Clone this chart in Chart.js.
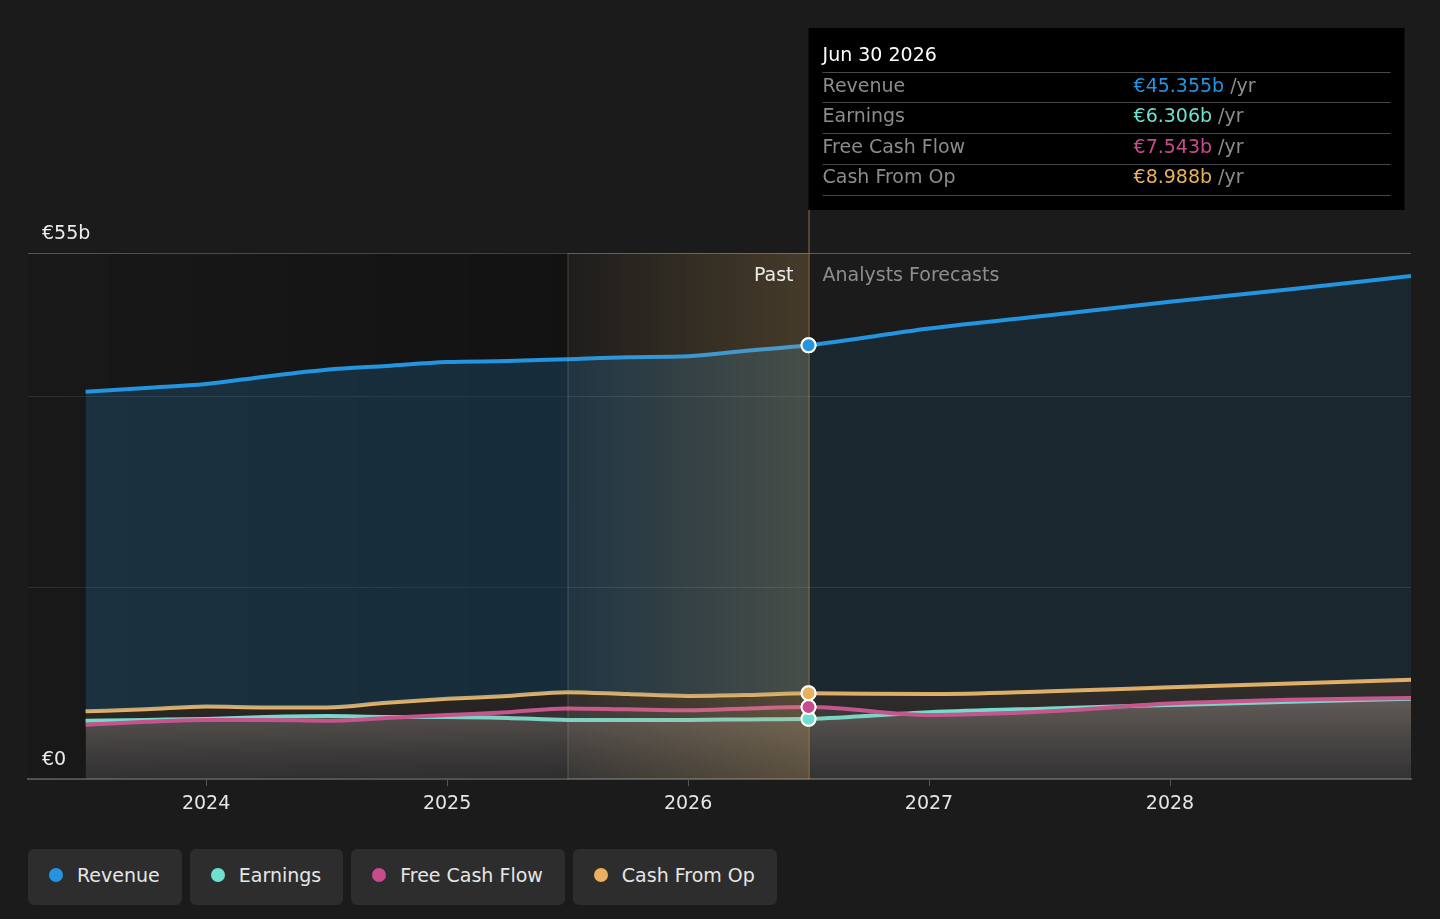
<!DOCTYPE html>
<html>
<head>
<meta charset="utf-8">
<script src="https://cdn.jsdelivr.net/npm/chart.js@4"></script>
<style>
  html, body { margin: 0; padding: 0; background: #1b1b1b; }
  body { width: 1440px; height: 919px; position: relative; overflow: hidden; font-family: 'DejaVu Sans', sans-serif; }
  #wrap { position: absolute; left: 0; top: 0; width: 1440px; height: 830px; }
  #legend { position: absolute; left: 28px; top: 849px; display: flex; gap: 8px; }
  .item { height: 56px; box-sizing: border-box; padding: 0 22px 5px 21px; background: #2d2d2d; border-radius: 6px;
          display: flex; align-items: center; color: #e6e6e6; font-size: 19px; }
  .dot { width: 14px; height: 14px; border-radius: 50%; margin-right: 14px; }
</style>
</head>
<body>
<div id="wrap"><canvas id="chart"></canvas></div>
<div id="legend"></div>
<script>
// data (values in € billions)
const years = [2023.5, 2023.75, 2024, 2024.25, 2024.5, 2024.75, 2025, 2025.25, 2025.5, 2025.75, 2026, 2026.25, 2026.5,
               2027, 2027.5, 2028, 2028.5, 2029];
const revenue  = [40.5, 40.9, 41.3, 42.1, 42.8, 43.2, 43.6, 43.7, 43.9, 44.1, 44.2, 44.8, 45.355, 47.1, 48.5, 49.9, 51.2, 52.6];
const earnings = [6.1, 6.2, 6.3, 6.5, 6.6, 6.5, 6.5, 6.4, 6.2, 6.2, 6.2, 6.25, 6.306, 7.0, 7.4, 7.75, 8.1, 8.4];
const fcf      = [5.7, 6.0, 6.2, 6.2, 6.1, 6.4, 6.7, 7.0, 7.4, 7.3, 7.2, 7.4, 7.543, 6.7, 7.1, 7.9, 8.3, 8.5];
const cfo      = [7.1, 7.3, 7.6, 7.5, 7.5, 8.0, 8.4, 8.7, 9.1, 8.9, 8.7, 8.8, 8.988, 8.9, 9.2, 9.6, 10.0, 10.4];
const yearTicks = [2024, 2025, 2026, 2027, 2028];
const yTicks = [0, 20, 40, 55];
const names = ['Revenue', 'Earnings', 'Free Cash Flow', 'Cash From Op'];
const colors = ['#2394df', '#6fe0cf', '#c84b8b', '#e8b060'];
const highlightStart = 2025.5;
const pastEnd = 2026.5;
const hoverLabel = 'Jun 30 2026';

const FONT = "'DejaVu Sans', sans-serif";
const xMin = 2023.261, xMax = 2029.0;

const pts = arr => arr.map((v, i) => ({x: years[i], y: v}));

function rgba(hex, a){
  const n = parseInt(hex.slice(1), 16);
  return `rgba(${n >> 16},${(n >> 8) & 255},${n & 255},${a})`;
}

// horizontal gradient: stronger in the past, weaker over forecasts
function revFill(ctx){
  const ch = ctx.chart;
  if (!ch.chartArea) return rgba(colors[0], 0.15);
  const x = ch.scales.x, a = ch.chartArea;
  const g = ch.ctx.createLinearGradient(a.left, 0, a.right, 0);
  const p = (x.getPixelForValue(pastEnd) - a.left) / (a.right - a.left);
  g.addColorStop(0, rgba(colors[0], 0.2));
  g.addColorStop(p, rgba(colors[0], 0.2));
  g.addColorStop(Math.min(p + 0.001, 1), rgba(colors[0], 0.1));
  g.addColorStop(1, rgba(colors[0], 0.1));
  return g;
}
function lowFill(alphaTop, alphaBot){
  return ctx => {
    const ch = ctx.chart;
    if (!ch.chartArea) return 'rgba(200,190,180,0.1)';
    const y = ch.scales.y;
    const g = ch.ctx.createLinearGradient(0, y.getPixelForValue(10), 0, y.getPixelForValue(0));
    g.addColorStop(0, `rgba(200,182,170,${alphaTop})`);
    g.addColorStop(1, `rgba(130,130,130,${alphaBot})`);
    return g;
  };
}

const markerRadius = ctx => (ctx.raw && ctx.raw.x === pastEnd ? 7 : 0);

const backdrop = {
  id: 'backdrop',
  beforeDatasetsDraw(chart){
    const {ctx, chartArea: a, scales: {x}} = chart;
    const hs = x.getPixelForValue(highlightStart);
    const g = ctx.createLinearGradient(a.left, 0, hs, 0);
    g.addColorStop(0, 'rgba(0,0,0,0.08)');
    g.addColorStop(1, 'rgba(0,0,0,0.3)');
    ctx.save();
    ctx.fillStyle = g;
    ctx.fillRect(a.left, a.top, hs - a.left, a.bottom - a.top);
    ctx.restore();
  },
  afterDatasetsDraw(chart){
    const {ctx, chartArea: a, scales: {x}} = chart;
    const hs = x.getPixelForValue(highlightStart);
    const pe = x.getPixelForValue(pastEnd);
    ctx.save();
    const g = ctx.createLinearGradient(hs, 0, pe, 0);
    g.addColorStop(0, 'rgba(225,175,95,0.02)');
    g.addColorStop(1, 'rgba(225,175,95,0.22)');
    ctx.fillStyle = g;
    ctx.fillRect(hs, a.top, pe - hs, a.bottom - a.top);
    ctx.strokeStyle = 'rgba(200,180,140,0.25)';
    ctx.lineWidth = 1;
    ctx.beginPath(); ctx.moveTo(hs + 0.5, a.top); ctx.lineTo(hs + 0.5, a.bottom); ctx.stroke();
    ctx.restore();
  },
  afterDraw(chart){
    const {ctx, chartArea: a, scales: {x, y}} = chart;
    const pe = x.getPixelForValue(pastEnd);
    ctx.save();
    // y labels
    ctx.font = `19px ${FONT}`;
    ctx.fillStyle = '#ececec';
    ctx.textBaseline = 'middle';
    ctx.textAlign = 'left';
    ctx.fillText('€55b', 42, y.getPixelForValue(55) - 19);
    ctx.fillText('€0', 42, y.getPixelForValue(0) - 19);
    // past / forecast labels
    ctx.textAlign = 'right';
    ctx.fillText('Past', pe - 15, a.top + 23);
    ctx.textAlign = 'left';
    ctx.fillStyle = '#8e8e8e';
    ctx.fillText('Analysts Forecasts', pe + 14, a.top + 23);

    // hover tooltip box
    const bx = pe, by = 28, bw = 596, bh = 182;
    ctx.fillStyle = '#000';
    ctx.fillRect(bx, by, bw, bh);
    ctx.strokeStyle = 'rgba(190,150,80,0.7)';
    ctx.lineWidth = 1;
    ctx.beginPath(); ctx.moveTo(pe + 0.5, by + bh); ctx.lineTo(pe + 0.5, a.bottom); ctx.stroke();
    ctx.fillStyle = '#ffffff';
    ctx.fillText(hoverLabel, bx + 14, 56);
    const lines = [72, 102, 133, 164, 195];
    ctx.strokeStyle = '#4a4a4a';
    lines.forEach(ly => { ctx.beginPath(); ctx.moveTo(bx + 14, ly + 0.5); ctx.lineTo(bx + bw - 14, ly + 0.5); ctx.stroke(); });
    const idx = years.indexOf(pastEnd);
    const vals = [revenue, earnings, fcf, cfo].map(s => s[idx]);
    const rows = [87, 117, 148, 178];
    names.forEach((n, i) => {
      ctx.fillStyle = '#8c8c8c';
      ctx.fillText(n, bx + 14, rows[i]);
      const v = '€' + vals[i].toFixed(3) + 'b';
      ctx.fillStyle = colors[i];
      ctx.fillText(v, bx + 325, rows[i]);
      const w = ctx.measureText(v + ' ').width;
      ctx.fillStyle = '#8c8c8c';
      ctx.fillText('/yr', bx + 325 + w, rows[i]);
    });
    ctx.restore();

    // markers on top of the highlight overlay
    chart.data.datasets.forEach((d, i) => {
      const el = chart.getDatasetMeta(i).data[years.indexOf(pastEnd)];
      if (el) el.draw(ctx, a);
    });
  }
};

const series = [revenue, earnings, fcf, cfo];
const fills = [
  {fill: 3, bg: revFill, order: 0},
  {fill: 'origin', bg: lowFill(0.3, 0.12), order: 3},
  {fill: 'origin', bg: lowFill(0.14, 0.07), order: 2},
  {fill: 'origin', bg: lowFill(0.13, 0.07), order: 1}
];

new Chart(document.getElementById('chart'), {
  type: 'line',
  data: {
    datasets: series.map((s, i) => ({
      label: names[i],
      data: pts(s),
      borderColor: colors[i],
      backgroundColor: fills[i].bg,
      fill: fills[i].fill,
      order: fills[i].order,
      borderWidth: 4,
      cubicInterpolationMode: 'monotone',
      pointRadius: markerRadius,
      pointBackgroundColor: colors[i],
      pointBorderColor: '#ffffff',
      pointBorderWidth: 2,
      pointHoverRadius: markerRadius
    }))
  },
  options: {
    responsive: true,
    maintainAspectRatio: false,
    animation: false,
    events: [],
    layout: {padding: {top: 253, left: 28, right: 29, bottom: 9}},
    plugins: {legend: {display: false}, tooltip: {enabled: false}},
    scales: {
      x: {
        type: 'linear',
        min: xMin, max: xMax,
        afterBuildTicks: sc => { sc.ticks = yearTicks.map(v => ({value: v})); },
        ticks: {color: '#e6e6e6', font: {family: FONT, size: 19}, padding: 6, autoSkip: false,
                maxRotation: 0, callback: v => String(v)},
        grid: {drawOnChartArea: false, drawTicks: true, tickLength: 7, color: '#555'},
        border: {color: '#555', width: 2}
      },
      y: {
        min: 0, max: 55,
        afterBuildTicks: sc => { sc.ticks = yTicks.map(v => ({value: v})); },
        ticks: {display: false},
        grid: {drawTicks: false, lineWidth: 1,
               color: c => c.tick.value === 55 ? '#5a5a5a' : (c.tick.value === 0 ? 'rgba(0,0,0,0)' : '#323232')},
        border: {display: false}
      }
    }
  },
  plugins: [backdrop]
});

const leg = document.getElementById('legend');
names.forEach((n, i) => {
  const d = document.createElement('div');
  d.className = 'item';
  d.innerHTML = `<span class="dot" style="background:${colors[i]}"></span>${n}`;
  leg.appendChild(d);
});
</script>
</body>
</html>
